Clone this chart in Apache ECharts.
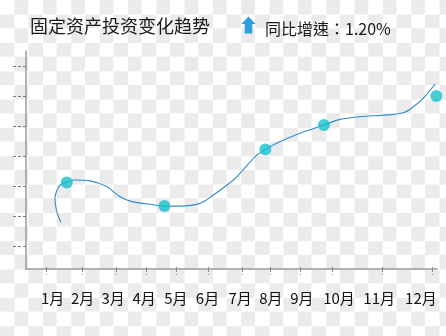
<!DOCTYPE html>
<html>
<head>
<meta charset="utf-8">
<script src="https://cdn.jsdelivr.net/npm/echarts@6/dist/echarts.min.js"></script>
<style>
html,body{margin:0;padding:0;}
body{width:446px;height:336px;background-color:#fff;
background-image:conic-gradient(#ebebeb 25%, #fff 0 50%, #ebebeb 0 75%, #fff 0);
background-size:28.34px 28.34px;background-position:0 0;}
#c{width:446px;height:336px;}
</style>
</head>
<body>
<div id="c"></div>
<script>
// Month labels and where they sit along the x scale (month units)
var monthLabels = ['1月','2月','3月','4月','5月','6月','7月','8月','9月','10月','11月','12月'];
var monthPos = [0.81, 1.72, 2.65, 3.59, 4.56, 5.52, 6.51, 7.45, 8.39, 9.52, 10.74, 12.01];
// x-axis tick positions (irregular, as in the picture)
var xTicks = [0.62, 1.71, 2.75, 3.67, 4.57, 5.54, 6.58, 7.43, 8.34, 9.32, 10.84, 12.36];
// y-axis tick values
var yTicks = [10, 20, 30, 40, 50, 60, 70];
// trend curve
var lineX = [1.06, 0.93, 0.88, 0.96, 1.06, 1.24, 1.49, 1.95, 2.45, 2.86, 3.22, 3.77, 4.21, 4.68, 5.29, 5.70, 6.31, 6.51, 6.97, 7.28, 7.73, 8.33, 9.06, 9.55, 10.16, 10.97, 11.48, 11.78, 12.08, 12.44];
var lineY = [17.9, 21.7, 26.0, 29.0, 30.5, 31.2, 32.0, 31.7, 29.8, 26.4, 24.8, 23.9, 23.3, 23.3, 24.2, 27.0, 32.0, 34.2, 39.8, 42.2, 44.8, 47.6, 50.3, 52.2, 53.1, 53.7, 54.4, 56.4, 59.2, 64.0];
// highlighted points
var dotX = [1.24, 4.21, 7.28, 9.06, 12.48];
var dotY = [31.2, 23.3, 42.2, 50.3, 60.0];

var lineData = lineX.map(function(x,i){return [x, lineY[i]];});
var dotData = dotX.map(function(x,i){return [x, dotY[i]];});

var chart = echarts.init(document.getElementById('c'), null, {renderer:'canvas'});
var FONT = '"Noto Sans CJK SC","Noto Sans",sans-serif';
var FONT_TC = '"Noto Sans CJK TC","Noto Sans CJK SC",sans-serif';
chart.setOption({
  backgroundColor:'transparent',
  animation:false,
  title:[
    {text:'固定资产投资变化趋势', left:30, top:17, padding:0,
     textStyle:{fontSize:18, fontWeight:'normal', color:'#1a1a1a', fontFamily:FONT}},
    {text:'同比增速：1.20%', left:265, top:21, padding:0,
     textStyle:{fontSize:16, fontWeight:'normal', color:'#1a1a1a', fontFamily:FONT_TC}}
  ],
  graphic:[{
    type:'polygon',
    shape:{points:[[248.5,16.5],[255.5,24],[252.3,24],[252.3,33.5],[244.7,33.5],[244.7,24],[241.5,24]]},
    style:{fill:'#2a9fdb'}
  }],
  grid:{left:26, right:9, top:51, bottom:67, containLabel:false, outerBoundsMode:'none'},
  xAxis:[{
    type:'value', min:0, max:12.5,
    axisLine:{show:true, lineStyle:{color:'#9a9a9a', width:1.5}},
    axisTick:{show:true, customValues:xTicks, length:6, inside:false,
      lineStyle:{color:'#8a8a8a', width:1, type:[3,2]}},
    axisLabel:{show:true, customValues:monthPos, margin:22,
      formatter:function(v){var i=monthPos.indexOf(v);return i>=0?monthLabels[i]:'';},
      fontSize:15, color:'#111', fontFamily:FONT},
    splitLine:{show:false}
  },{
    type:'value', min:0, max:12.5, position:'bottom',
    axisLine:{show:false},
    axisTick:{show:true, customValues:xTicks, length:4, inside:true,
      lineStyle:{color:'#8a8a8a', width:1, type:[2,2]}},
    axisLabel:{show:false},
    splitLine:{show:false}
  }],
  yAxis:{
    type:'value', min:2.33, max:75,
    axisLine:{show:true, lineStyle:{color:'#9a9a9a', width:1.5}},
    axisTick:{show:true, customValues:yTicks, length:15, inside:false,
      lineStyle:{color:'#7a7a7a', width:1, type:[3,2]}},
    axisLabel:{show:false},
    splitLine:{show:false}
  },
  series:[
    {type:'line', data:lineData, smooth:0.35, showSymbol:false, symbol:'none',
     lineStyle:{color:'#2f8ccf', width:1.1}, silent:true, z:2},
    {type:'scatter', data:dotData, symbolSize:12, clip:false,
     itemStyle:{color:'#17bfcc'}, silent:true, z:3}
  ]
});
</script>
</body>
</html>
